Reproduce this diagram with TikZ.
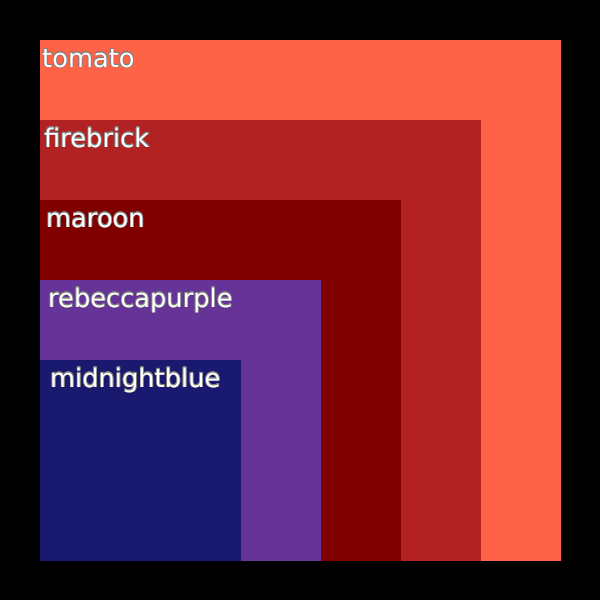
\documentclass[tikz,border=0pt]{standalone}
\usepackage{fontspec}
\setmainfont{DejaVu Sans}
\usepackage{contour}
\contourlength{0.7pt}
\definecolor{tomato}{HTML}{FF6347}
\definecolor{firebrick}{HTML}{B22222}
\definecolor{maroon}{HTML}{800000}
\definecolor{rebeccapurple}{HTML}{663399}
\definecolor{midnightblue}{HTML}{191970}
\tikzset{lbl/.style={inner sep=0pt, anchor=base west, text=white, font=\fontsize{25.7}{30}\selectfont}}
\begin{document}
\begin{tikzpicture}[x=1pt,y=-1pt]
\fill[black] (0,0) rectangle (600,600);
\useasboundingbox (0,0) rectangle (600,600);
\fill[tomato] (40,40) rectangle (561,561);
\fill[firebrick] (40,120) rectangle (481,561);
\fill[maroon] (40,200) rectangle (401,561);
\fill[rebeccapurple] (40,280) rectangle (321,561);
\fill[midnightblue] (40,360) rectangle (241,561);
\node[lbl] (t1) at (42,67) {\contour{gray}{tomato}};
\node[lbl] (t2) at (44,147) {\contour{gray}{firebrick}};
\node[lbl] (t3) at (46,227) {\contour{gray}{maroon}};
\node[lbl] (t4) at (48,307) {\contour{gray}{rebeccapurple}};
\node[lbl] (t5) at (50,387) {\contour{gray}{midnightblue}};
\end{tikzpicture}
\end{document}
